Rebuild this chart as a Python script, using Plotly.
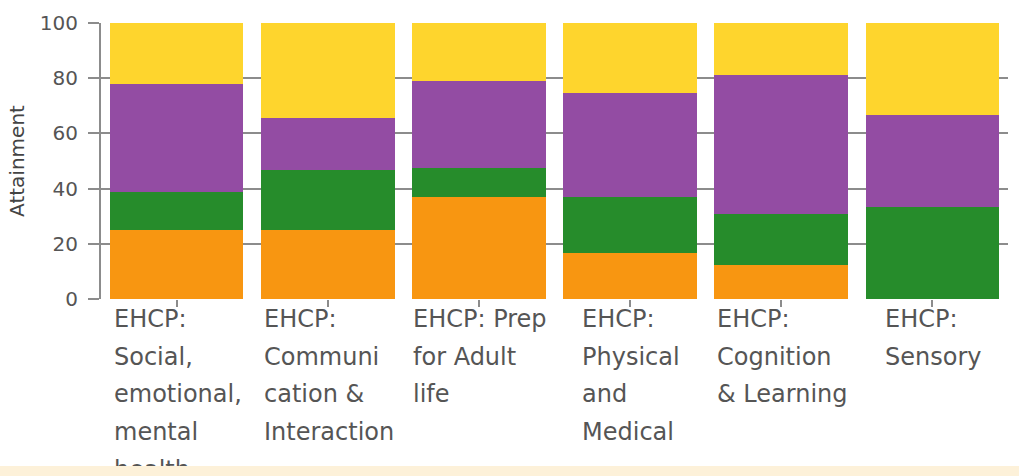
import plotly.graph_objects as go

# Category labels, one list of text lines per category
categories = ["Social", "Communication", "Prep for Adult", "Physical", "Cognition", "Sensory"]
label_lines = [
    ["EHCP:", "Social,", "emotional,", "mental", "health"],
    ["EHCP:", "Communi", "cation &", "Interaction"],
    ["EHCP: Prep", "for Adult", "life"],
    ["EHCP:", "Physical", "and", "Medical"],
    ["EHCP:", "Cognition", "& Learning"],
    ["EHCP:", "Sensory"],
]

# Stacked shares (percent), bottom to top
orange_vals = [25.0, 25.0, 36.8, 16.5, 12.4, 0.0]
green_vals = [13.9, 21.9, 10.5, 20.5, 18.4, 33.3]
purple_vals = [38.9, 18.8, 31.6, 37.5, 50.2, 33.4]
yellow_vals = [22.2, 34.3, 21.1, 25.5, 19.0, 33.3]

y_ticks = [0, 20, 40, 60, 80, 100]

series = [
    ("Orange", orange_vals, "rgb(248,150,17)"),
    ("Green", green_vals, "rgb(38,140,43)"),
    ("Purple", purple_vals, "rgb(147,76,163)"),
    ("Yellow", yellow_vals, "rgb(254,213,45)"),
]

grid_col = "#8c8c8c"
text_col = "#555555"
label_font = "DejaVu Sans"
label_size = 24
line_step = 37.7

# DejaVu Sans advance widths (em) used to centre each left-aligned label block
ADVANCE = {
    " ": 0.318, "&": 0.780, ",": 0.318, ":": 0.337,
    "A": 0.684, "C": 0.698, "E": 0.632, "H": 0.752, "I": 0.295, "L": 0.557,
    "M": 0.863, "P": 0.603, "S": 0.635,
    "a": 0.613, "c": 0.550, "d": 0.635, "e": 0.615, "f": 0.352, "g": 0.635,
    "h": 0.634, "i": 0.278, "l": 0.278, "m": 0.974, "n": 0.634, "o": 0.612,
    "p": 0.635, "r": 0.411, "s": 0.521, "t": 0.392, "u": 0.634, "y": 0.592,
}


def text_width(s, size):
    return sum(ADVANCE.get(ch, 0.6) for ch in s) * size


fig = go.Figure()
for name, vals, col in series:
    fig.add_trace(go.Bar(
        x=categories, y=vals, name=name,
        marker=dict(color=col, line=dict(width=0)),
        hoverinfo="y",
    ))

# Multi-line category labels: block centred on the category, lines left-aligned,
# one annotation per line so the line spacing can be widened.
annotations = []
for cat, lines in zip(categories, label_lines):
    block_w = max(text_width(ln, label_size) for ln in lines)
    for k, ln in enumerate(lines):
        annotations.append(dict(
            x=cat, xref="x", y=0, yref="paper",
            xanchor="left", yanchor="top", align="left",
            text=ln, showarrow=False,
            font=dict(family=label_font, size=label_size, color=text_col),
            xshift=-block_w / 2 - 1,
            yshift=-(4 + k * line_step),
        ))

fig.update_layout(
    barmode="stack",
    bargap=0.115,
    width=1019, height=466,
    margin=dict(l=101, r=11, t=23, b=167),
    paper_bgcolor="white", plot_bgcolor="white",
    showlegend=False,
    annotations=annotations,
    xaxis=dict(
        showticklabels=False, ticks="outside", ticklen=7, tickwidth=1.5,
        tickcolor=grid_col, showgrid=False, zeroline=False, showline=False,
    ),
    yaxis=dict(
        range=[0, 100], tickvals=y_ticks, ticks="outside", ticklen=11,
        tickwidth=2, tickcolor=grid_col, showgrid=True, gridcolor=grid_col,
        gridwidth=2, zeroline=False, showline=True, linecolor=grid_col,
        linewidth=2, ticklabelstandoff=6,
        tickfont=dict(family=label_font, size=20, color=text_col),
        title=dict(text="Attainment", standoff=10,
                   font=dict(family=label_font, size=20, color="#444444")),
    ),
)

fig.write_html("out.html",
               post_script="document.body.style.margin='0';document.body.style.background='#fdf1d9';")
